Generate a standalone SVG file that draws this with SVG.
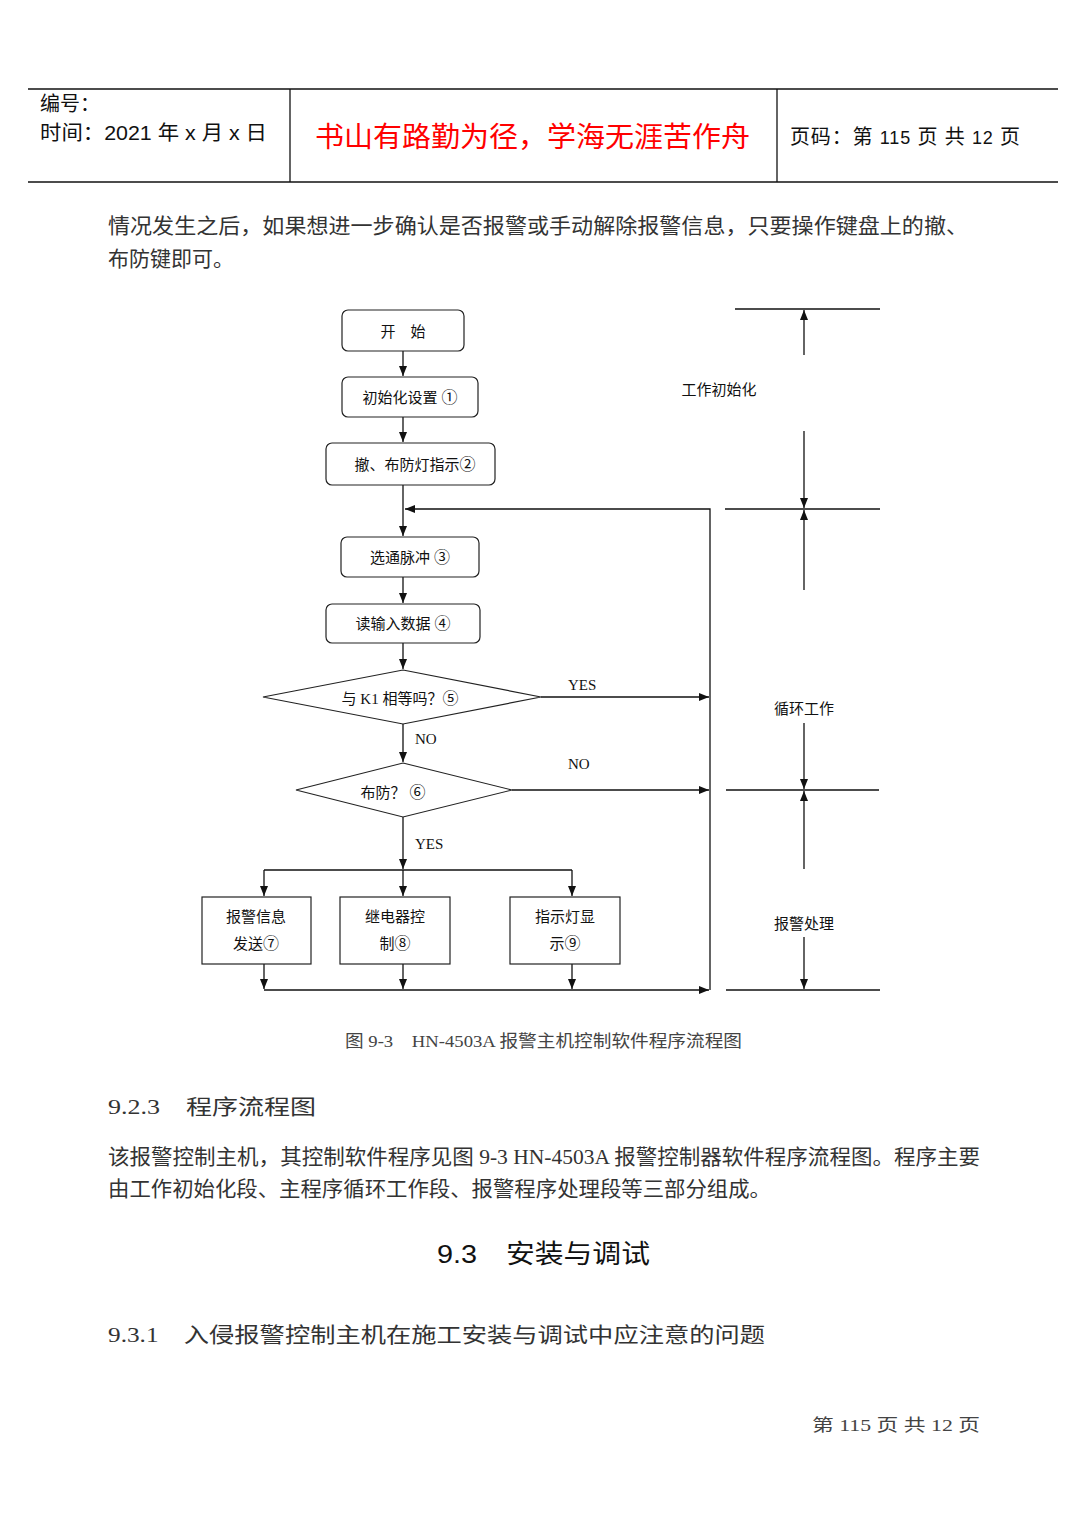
<svg xmlns="http://www.w3.org/2000/svg" width="1087" height="1536" viewBox="0 0 1087 1536">
<style>
.hdr{font-family:"Liberation Sans","Noto Sans CJK SC",sans-serif;font-size:20px;fill:#111}
.red{font-family:"Noto Sans CJK SC",sans-serif;font-size:28px;fill:#ff0000}
.body{font-family:"Liberation Serif","Noto Sans CJK SC",serif;font-size:21px;fill:#333}
.fc{font-family:"Liberation Serif","Noto Sans CJK SC",serif;font-size:15px;fill:#111}
.cap{font-family:"Liberation Serif","Noto Sans CJK SC",serif;font-size:17px;fill:#444}
.cn{font-family:"Noto Sans CJK SC",sans-serif;font-size:16px}
.ln{stroke:#111;stroke-width:1.3;fill:none}
.box{stroke:#222;stroke-width:1.2;fill:#fff}
.arr{stroke:#111;stroke-width:1.3;fill:none;marker-end:url(#ah)}
</style>
<defs>
<marker id="ah" markerUnits="userSpaceOnUse" markerWidth="10" markerHeight="8" refX="10" refY="4" orient="auto">
<path d="M0,0 L10,4 L0,8 z" fill="#111"/>
</marker>
</defs>
<rect width="1087" height="1536" fill="#fff"/>
<g id="header">
<line x1="28" y1="89" x2="1058" y2="89" class="ln"/>
<line x1="28" y1="182" x2="1058" y2="182" class="ln"/>
<line x1="290" y1="89" x2="290" y2="182" class="ln"/>
<line x1="777" y1="89" x2="777" y2="182" class="ln"/>
<text x="40" y="111" class="hdr">编号：</text>
<text x="40" y="140" class="hdr" textLength="227" lengthAdjust="spacingAndGlyphs">时间：2021 年 x 月 x 日</text>
<text x="315" y="147" class="red" textLength="435" lengthAdjust="spacingAndGlyphs">书山有路勤为径，学海无涯苦作舟</text>
<text x="790" y="144" class="hdr" textLength="230" lengthAdjust="spacing">页码：第 <tspan font-size="18">115</tspan> 页  共 <tspan font-size="18">12</tspan> 页</text>
</g>
<g id="intro">
<text x="108" y="233" class="body" textLength="860" lengthAdjust="spacingAndGlyphs">情况发生之后，如果想进一步确认是否报警或手动解除报警信息，只要操作键盘上的撤、</text>
<text x="108" y="266" class="body">布防键即可。</text>
</g>
<g id="connectors">
<line x1="403" y1="351" x2="403" y2="376" class="arr"/>
<line x1="403" y1="417" x2="403" y2="442" class="arr"/>
<line x1="403" y1="485" x2="403" y2="536" class="arr"/>
<polyline points="710,697 710,509 405,509" class="arr"/>
<line x1="403" y1="577" x2="403" y2="603" class="arr"/>
<line x1="403" y1="643" x2="403" y2="669" class="arr"/>
<line x1="541" y1="697" x2="709" y2="697" class="arr"/>
<line x1="403" y1="724" x2="403" y2="762" class="arr"/>
<line x1="512" y1="790" x2="709" y2="790" class="arr"/>
<line x1="710" y1="697" x2="710" y2="990" class="ln"/>
<line x1="403" y1="817" x2="403" y2="869" class="arr"/>
<line x1="264" y1="870" x2="572" y2="870" class="ln"/>
<line x1="264" y1="870" x2="264" y2="896" class="arr"/>
<line x1="403" y1="870" x2="403" y2="896" class="arr"/>
<line x1="572" y1="870" x2="572" y2="896" class="arr"/>
<line x1="264" y1="964" x2="264" y2="989" class="arr"/>
<line x1="403" y1="964" x2="403" y2="989" class="arr"/>
<line x1="572" y1="964" x2="572" y2="989" class="arr"/>
<line x1="264" y1="990" x2="709" y2="990" class="arr"/>
<text x="568" y="690" class="fc">YES</text>
<text x="415" y="744" class="fc">NO</text>
<text x="568" y="769" class="fc">NO</text>
<text x="415" y="849" class="fc">YES</text>
</g>
<g id="n-start"><rect x="342" y="310" width="122" height="41" rx="6" class="box"/><text x="403" y="337" class="fc" text-anchor="middle">开　始</text></g>
<g id="n-init"><rect x="342" y="377" width="136" height="40" rx="6" class="box"/><text x="410" y="403" class="fc" text-anchor="middle">初始化设置 <tspan class="cn">①</tspan></text></g>
<g id="n-light"><rect x="326" y="443" width="169" height="42" rx="6" class="box"/><text x="415" y="470" class="fc" text-anchor="middle">撤、布防灯指示<tspan class="cn">②</tspan></text></g>
<g id="n-pulse"><rect x="341" y="537" width="138" height="40" rx="6" class="box"/><text x="410" y="563" class="fc" text-anchor="middle">选通脉冲 <tspan class="cn">③</tspan></text></g>
<g id="n-read"><rect x="326" y="604" width="154" height="39" rx="6" class="box"/><text x="403" y="629" class="fc" text-anchor="middle">读输入数据 <tspan class="cn">④</tspan></text></g>
<g id="n-k1"><polygon points="403,670 541,697 403,724 263,697" class="box"/><text x="400" y="704" class="fc" text-anchor="middle">与 K1 相等吗？<tspan class="cn">⑤</tspan></text></g>
<g id="n-arm"><polygon points="403,763 512,790 403,817 296,790" class="box"/><text x="393" y="798" class="fc" text-anchor="middle">布防？ <tspan class="cn">⑥</tspan></text></g>
<g id="n-send"><rect x="202" y="897" width="109" height="67" class="box"/><text x="256" y="922" class="fc" text-anchor="middle">报警信息</text><text x="256" y="949" class="fc" text-anchor="middle">发送<tspan class="cn">⑦</tspan></text></g>
<g id="n-relay"><rect x="340" y="897" width="110" height="67" class="box"/><text x="395" y="922" class="fc" text-anchor="middle">继电器控</text><text x="395" y="949" class="fc" text-anchor="middle">制<tspan class="cn">⑧</tspan></text></g>
<g id="n-ind"><rect x="510" y="897" width="110" height="67" class="box"/><text x="565" y="922" class="fc" text-anchor="middle">指示灯显</text><text x="565" y="949" class="fc" text-anchor="middle">示<tspan class="cn">⑨</tspan></text></g>
<g id="annotation">
<line x1="735" y1="309" x2="880" y2="309" class="ln"/>
<line x1="725" y1="509" x2="880" y2="509" class="ln"/>
<line x1="726" y1="790" x2="879" y2="790" class="ln"/>
<line x1="726" y1="990" x2="880" y2="990" class="ln"/>
<line x1="804" y1="355" x2="804" y2="310" class="arr"/>
<line x1="804" y1="431" x2="804" y2="508" class="arr"/>
<line x1="804" y1="590" x2="804" y2="510" class="arr"/>
<line x1="804" y1="723" x2="804" y2="789" class="arr"/>
<line x1="804" y1="869" x2="804" y2="791" class="arr"/>
<line x1="804" y1="937" x2="804" y2="989" class="arr"/>
<text x="719" y="395" class="fc" text-anchor="middle">工作初始化</text>
<text x="804" y="714" class="fc" text-anchor="middle">循环工作</text>
<text x="804" y="929" class="fc" text-anchor="middle">报警处理</text>
</g>
<g id="text-after">
<text x="345" y="1047" class="cap" textLength="397" lengthAdjust="spacingAndGlyphs">图 9-3　HN-4503A 报警主机控制软件程序流程图</text>
<text x="108" y="1114" class="body" textLength="208" lengthAdjust="spacingAndGlyphs">9.2.3　程序流程图</text>
<text x="108" y="1164" class="body" textLength="872" lengthAdjust="spacingAndGlyphs">该报警控制主机，其控制软件程序见图 9-3 HN-4503A 报警控制器软件程序流程图。程序主要</text>
<text x="108" y="1196" class="body" textLength="663" lengthAdjust="spacingAndGlyphs">由工作初始化段、主程序循环工作段、报警程序处理段等三部分组成。</text>
<text x="437" y="1263" font-family="Liberation Sans,Noto Sans CJK SC,sans-serif" font-size="26" fill="#111" textLength="213" lengthAdjust="spacingAndGlyphs">9.3　安装与调试</text>
<text x="108" y="1342" class="body" textLength="657" lengthAdjust="spacingAndGlyphs">9.3.1　入侵报警控制主机在施工安装与调试中应注意的问题</text>
<text x="812" y="1431" class="cap" textLength="168" lengthAdjust="spacingAndGlyphs">第 115 页 共 12 页</text>
</g>
</svg>
